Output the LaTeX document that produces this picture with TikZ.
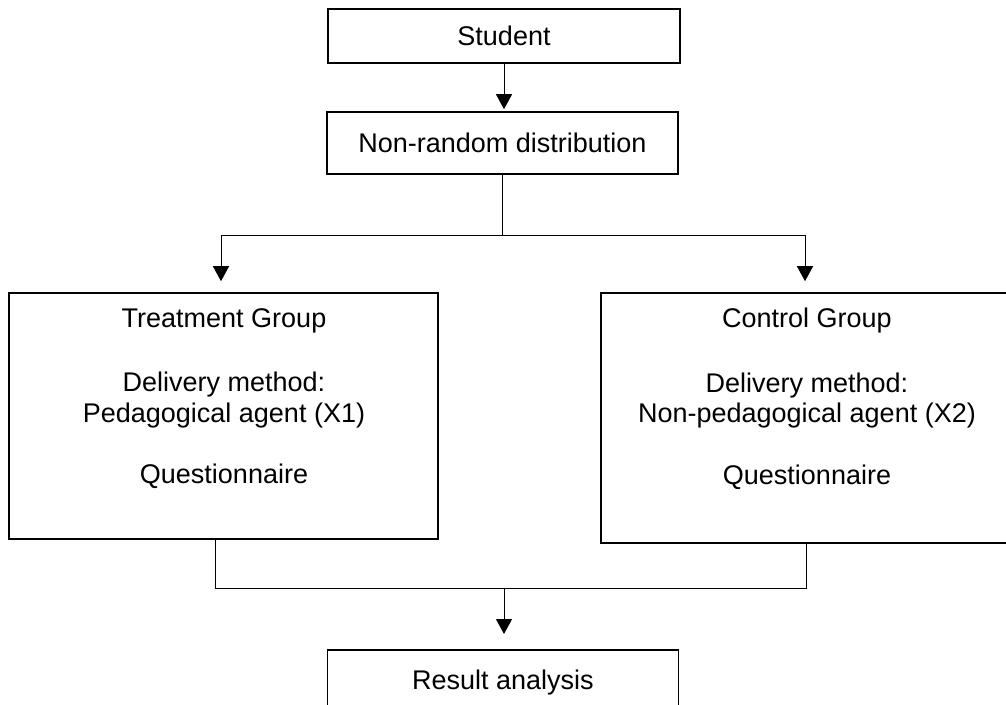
\documentclass[tikz,border=0pt]{standalone}
\usepackage{fontspec}
\setmainfont{Liberation Sans}
\usetikzlibrary{arrows.meta}
\begin{document}
\begin{tikzpicture}[x=1pt,y=-1pt,
  box/.style={draw=black, line width=1.6pt, rectangle, inner sep=0pt},
  single/.style={box, text height=19.5pt, text depth=0pt,
    font=\fontsize{27}{30.5}\selectfont},
  multi/.style={inner sep=0pt, align=center,
    font=\fontsize{27}{30.5}\selectfont},
  conn/.style={draw=black, line width=1pt},
  arr/.style={conn, -{Triangle[width=16pt,length=15pt]}}
]
\useasboundingbox (0,0) rectangle (1006,704);
\node[single, minimum width=352pt, minimum height=54pt] (student) at (504,36) {Student};
\node[single, minimum width=351pt, minimum height=62pt] (nonrandom) at (502.5,143) {Non-random distribution};
\node[box, minimum width=429pt, minimum height=246pt] (treat) at (223.5,416) {};
\node[box, minimum width=412pt, minimum height=250pt] (control) at (807,418) {};
\node[single, anchor=north, minimum width=351pt, minimum height=60pt] (result) at (503,649) {Result analysis};
\node[multi, anchor=north] (treattext) at (224,308) {Treatment Group\\[34pt]Delivery method:\\Pedagogical agent (X1)\\[31pt]Questionnaire};
\node[multi, anchor=north] (controltext) at (807,308) {Control Group\\[34pt]Delivery method:\\Non-pedagogical agent (X2)\\[31pt]Questionnaire};
\coordinate (splitl) at (221,235);
\coordinate (splitr) at (805,235);
\coordinate (mergel) at (215,588);
\coordinate (merger) at (806,588);
\coordinate (mergec) at (504,588);
\draw[arr, shorten >=2pt] (student.south) -- (student.south |- nonrandom.north);
\draw[conn] (nonrandom.south) -- (nonrandom.south |- splitl);
\draw[conn] (splitl) -- (splitr);
\draw[arr, shorten >=11pt] (splitl) -- (splitl |- treat.north);
\draw[arr, shorten >=11pt] (splitr) -- (splitr |- control.north);
\draw[conn] (mergel |- treat.south) -- (mergel) -- (merger) -- (merger |- control.south);
\draw[arr, shorten >=15pt] (mergec) -- (mergec |- result.north);
\end{tikzpicture}
\end{document}
